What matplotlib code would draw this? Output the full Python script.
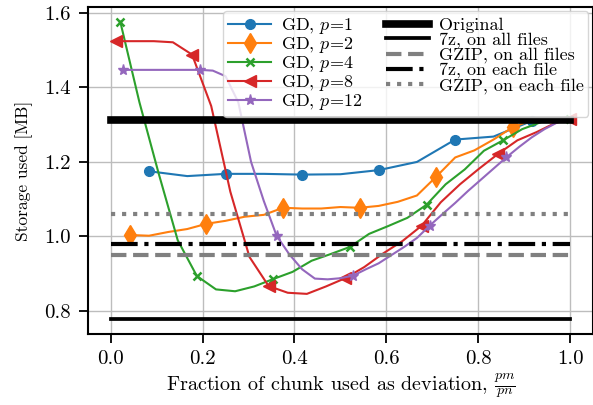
import matplotlib
matplotlib.use("Agg")
import matplotlib.pyplot as plt
from matplotlib.ticker import FormatStrFormatter

plt.rcParams['font.family'] = ['cmr10', 'DejaVu Serif']
plt.rcParams['mathtext.fontset'] = 'cm'
plt.rcParams['axes.formatter.use_mathtext'] = True
plt.rcParams['font.size'] = 14

# ---- data ----
x_p1 = [1/12, 2/12, 3/12, 4/12, 5/12, 6/12, 7/12, 8/12, 9/12, 10/12, 11/12, 12/12]
y_p1 = [1.175, 1.162, 1.168, 1.168, 1.166, 1.167, 1.178, 1.200, 1.260, 1.268, 1.310, 1.315]

x_p2 = [k/24 for k in range(1, 25)]
y_p2 = [1.004, 1.002, 1.012, 1.020, 1.034, 1.042, 1.053, 1.058, 1.077, 1.075, 1.075, 1.079,
        1.077, 1.082, 1.093, 1.110, 1.160, 1.212, 1.231, 1.260, 1.293, 1.312, 1.315, 1.316]

x_p4 = [(2*j+1)/48 for j in range(24)] + [1.0]
y_p4 = [1.576, 1.360, 1.170, 0.990, 0.894, 0.858, 0.853, 0.866, 0.886, 0.905, 0.935, 0.953,
        0.972, 1.007, 1.028, 1.050, 1.085, 1.140, 1.180, 1.230, 1.258, 1.288, 1.307, 1.314, 1.315]

x_p8 = [1/96 + j/24 for j in range(24)] + [1.0]
y_p8 = [1.524, 1.524, 1.524, 1.521, 1.488, 1.350, 1.120, 0.945, 0.867, 0.849, 0.846, 0.866,
        0.888, 0.918, 0.955, 0.988, 1.029, 1.092, 1.140, 1.182, 1.222, 1.258, 1.280, 1.305, 1.315]

x_p12 = [k/36 for k in range(1, 37)]
y_p12 = [1.447, 1.447, 1.447, 1.447, 1.447, 1.447, 1.447, 1.445, 1.430, 1.360, 1.200, 1.095,
         1.002, 0.952, 0.912, 0.887, 0.885, 0.888, 0.895, 0.912, 0.928, 0.950, 0.972, 0.996,
         1.029, 1.060, 1.090, 1.122, 1.152, 1.182, 1.212, 1.240, 1.266, 1.288, 1.306, 1.315]

orig = 1.313
z7_all = 0.778
gzip_all = 0.950
z7_each = 0.980
gzip_each = 1.059

fig = plt.figure(figsize=(5.93, 4.05), dpi=100)
ax = fig.add_axes([0.148, 0.175, 0.852, 0.808])

lw = 1.5
ax.plot(x_p1, y_p1, color='tab:blue', marker='o', markevery=2, ms=7, lw=lw, label=r'GD, $p$=1')
ax.plot(x_p2, y_p2, color='tab:orange', marker='d', markevery=4, ms=10, lw=lw, label=r'GD, $p$=2')
ax.plot(x_p4, y_p4, color='tab:green', marker='x', markevery=4, ms=6, mew=1.8, lw=lw, label=r'GD, $p$=4')
ax.plot(x_p8, y_p8, color='tab:red', marker='<', markevery=4, ms=8.5, lw=lw, label=r'GD, $p$=8')
ax.plot(x_p12, y_p12, color='tab:purple', marker='*', markevery=6, ms=8, lw=lw, label=r'GD, $p$=12')

ax.plot([0, 1], [orig, orig], color='black', lw=5.5, label='Original')
ax.plot([0, 1], [z7_all, z7_all], color='black', lw=2.7, label='7z, on all files')
ax.plot([0, 1], [gzip_all, gzip_all], color='gray', lw=3, ls='--', label='GZIP, on all files')
ax.plot([0, 1], [z7_each, z7_each], color='black', lw=3, ls='-.', label='7z, on each file')
ax.plot([0, 1], [gzip_each, gzip_each], color='gray', lw=3, ls=':', label='GZIP, on each file')

ax.set_xlim(-0.05, 1.05)
ax.set_ylim(0.738, 1.616)
ax.set_xticks([0.0, 0.2, 0.4, 0.6, 0.8, 1.0])
ax.set_yticks([0.8, 1.0, 1.2, 1.4, 1.6])
ax.xaxis.set_major_formatter(FormatStrFormatter('%.1f'))
ax.yaxis.set_major_formatter(FormatStrFormatter('%.1f'))
ax.grid(True, color='#bdbdbd', lw=1.0)
ax.set_axisbelow(True)
for s in ax.spines.values():
    s.set_linewidth(1.5)
ax.tick_params(width=1.3, length=6.5, labelsize=15, pad=5)
ax.tick_params(axis='y', pad=6)

ax.set_xlabel(r'Fraction of chunk used as deviation, $\frac{pm}{pn}$', fontsize=14.5, labelpad=2)
ax.set_ylabel('Storage used [MB]', fontsize=12.5, labelpad=8)

ax.legend(loc='upper right', ncol=2, fontsize=13, handlelength=2.4,
          handletextpad=0.55, borderaxespad=0.25, borderpad=0.25,
          labelspacing=-0.05, columnspacing=1.3)

fig.savefig('out.png', dpi=100)
